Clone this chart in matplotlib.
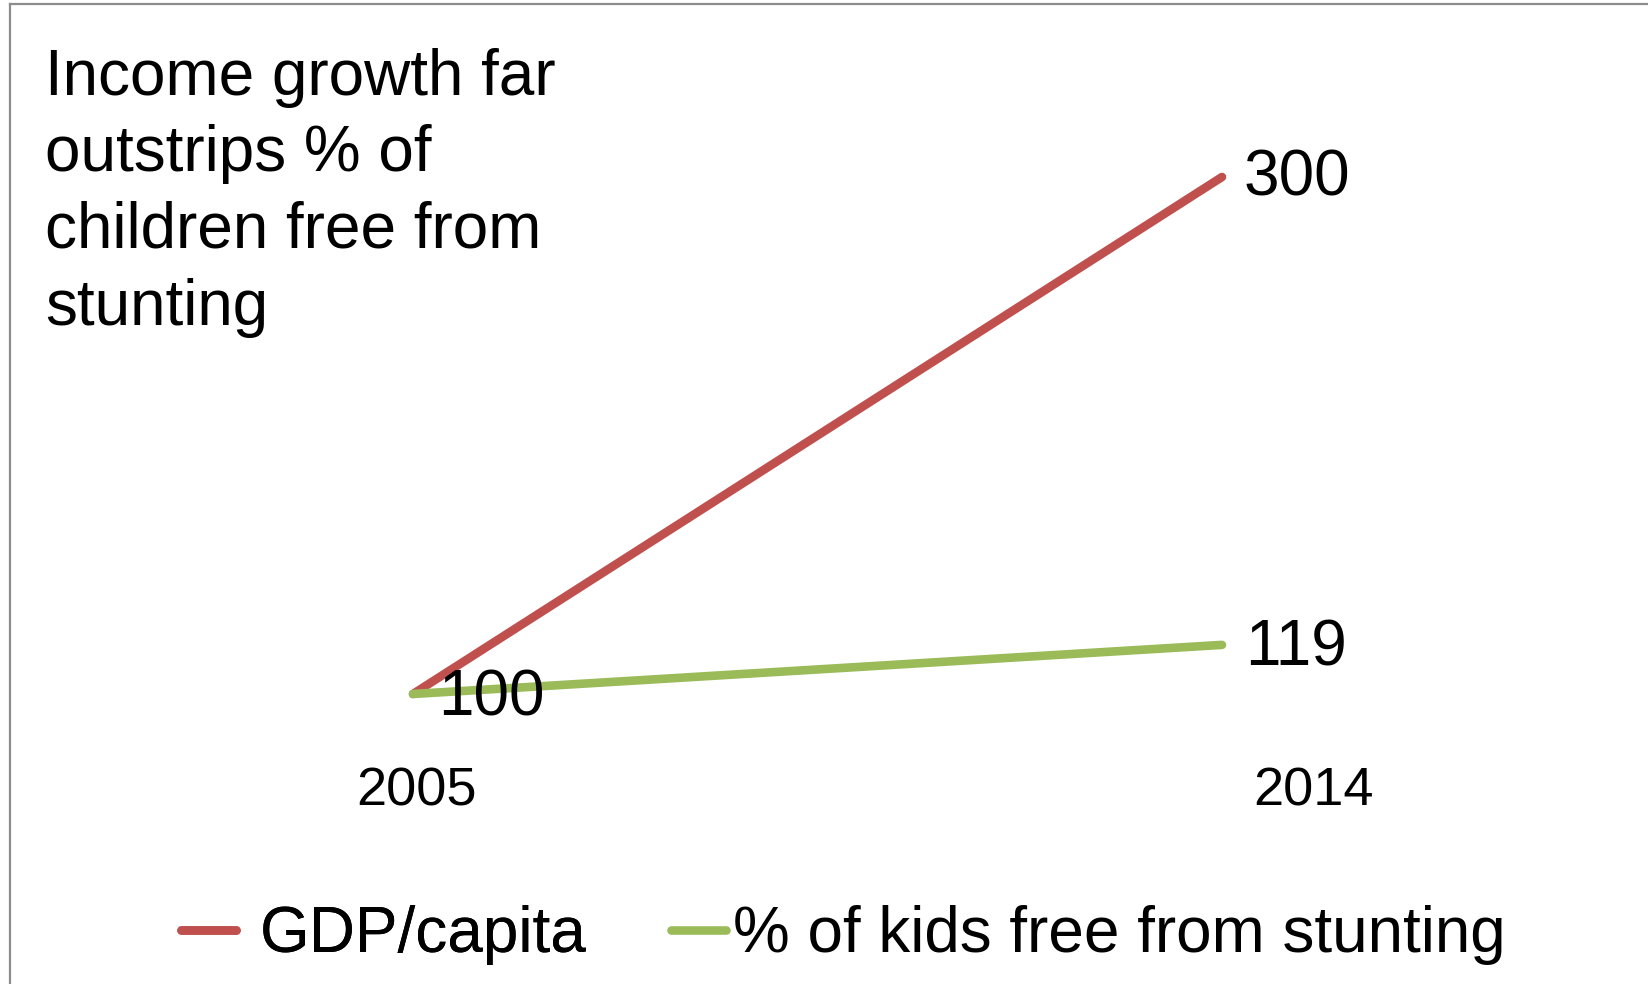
import matplotlib
matplotlib.use("Agg")
import matplotlib.pyplot as plt
from matplotlib.lines import Line2D

plt.rcParams['font.family'] = ['Liberation Sans', 'DejaVu Sans']

years = ["2005", "2014"]
gdp = [100, 300]
stunting = [100, 119]
series_names = ["GDP/capita", "% of kids free from stunting"]
title_lines = ["Income growth far", "outstrips % of", "children free from", "stunting"]

RED = "#C0504D"
GREEN = "#9BBB59"

W, H = 1649, 984
fig = plt.figure(figsize=(W / 100, H / 100), dpi=100)
ax = fig.add_axes([0, 0, 1, 1])
ax.set_axis_off()

# map data to pixel positions
x0_px, x1_px = 413, 1222
bx = x1_px - x0_px
ax.set_xlim(-x0_px / bx, (W - x0_px) / bx)
py = (694 - 177) / 200.0
ax.set_ylim(100 - (H - 694) / py, 100 + 694 / py)

xs = list(range(len(years)))
l1, = ax.plot(xs, gdp, color=RED, lw=6.2, solid_capstyle='round', label=series_names[0])
l2, = ax.plot(xs, stunting, color=GREEN, lw=6.2, solid_capstyle='round', label=series_names[1])

# data labels
ax.annotate(str(stunting[0]), xy=(xs[0], stunting[0]), xytext=(25, -5),
            textcoords='offset pixels', fontsize=46, va='center', ha='left')
ax.annotate(str(gdp[1]), xy=(xs[1], gdp[1]), xytext=(22, -2),
            textcoords='offset pixels', fontsize=46, va='center', ha='left')
ax.annotate(str(stunting[1]), xy=(xs[1], stunting[1]), xytext=(23, -4),
            textcoords='offset pixels', fontsize=46, va='center', ha='left')

# category labels
offsets = [4, 92]
for i, (y, dx) in enumerate(zip(years, offsets)):
    ax.annotate(y, xy=(xs[i], 100), xytext=(dx, -98), textcoords='offset pixels',
                fontsize=39, va='center', ha='center')

# title
baselines = [95, 171, 248, 325]
for t, b in zip(title_lines, baselines):
    fig.text(45 / W, 1 - b / H, t, fontsize=46, va='baseline', ha='left')

# legend (two entries, placed as in the reference)
leg_fs = 46
em = leg_fs * 100 / 72.0
leg1 = fig.legend(handles=[l1], loc='center left',
                  bbox_to_anchor=(181 / W, 1 - 935 / H), frameon=False,
                  fontsize=leg_fs, handlelength=55 / em, handletextpad=24 / em,
                  borderpad=0, borderaxespad=0)
leg2 = fig.legend(handles=[l2], loc='center left',
                  bbox_to_anchor=(671 / W, 1 - 935 / H), frameon=False,
                  fontsize=leg_fs, handlelength=55 / em, handletextpad=7 / em,
                  borderpad=0, borderaxespad=0)
fig.add_artist(leg1)

# border (top and left)
fig.add_artist(Line2D([9.5 / W, 9.5 / W], [0, 1 - 3.5 / H], transform=fig.transFigure,
                      color="#8c8c8c", lw=1.6))
fig.add_artist(Line2D([9.5 / W, 1], [1 - 3.5 / H, 1 - 3.5 / H], transform=fig.transFigure,
                      color="#8c8c8c", lw=1.6))

fig.savefig("out.png", dpi=100)
